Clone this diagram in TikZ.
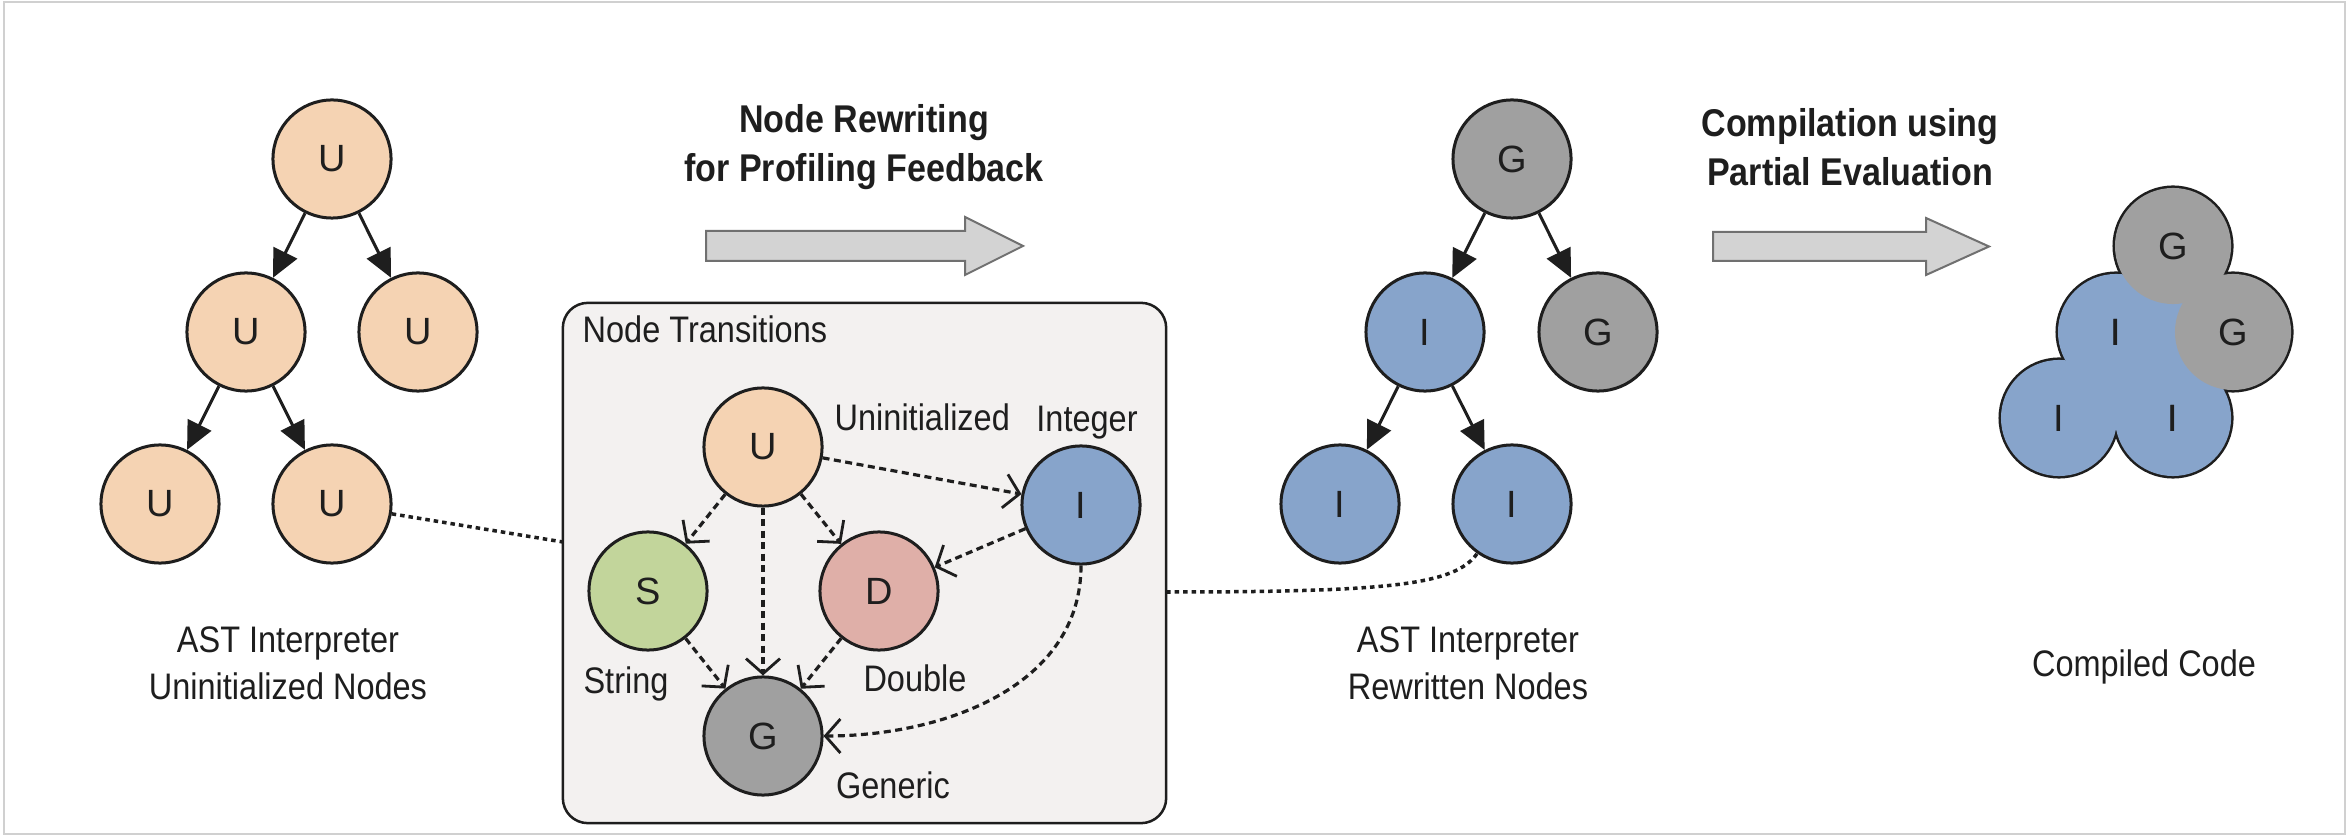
\documentclass[tikz,border=0pt]{standalone}
\usepackage{fontspec}
\setmainfont{Liberation Sans}[FakeStretch=0.88]
\newfontfamily\letterfont{Liberation Sans}
\usetikzlibrary{arrows.meta}

\definecolor{ufill}{HTML}{F5D3B3}
\definecolor{ifill}{HTML}{87A4CB}
\definecolor{gfill}{HTML}{A0A0A0}
\definecolor{sfill}{HTML}{C2D59B}
\definecolor{dfill}{HTML}{DFAFA8}
\definecolor{boxfill}{HTML}{F3F1F0}
\definecolor{arrowfill}{HTML}{D3D3D3}
\definecolor{arrowline}{HTML}{707070}
\definecolor{framecol}{HTML}{D0D0D0}
\definecolor{ink}{HTML}{1E1E1E}

\begin{document}
\begin{tikzpicture}[x=0.01cm, y=-0.01cm,
  tnode/.style={circle, draw=ink, line width=0.03cm, minimum size=1.18cm, inner sep=0pt,
    text=ink, font=\letterfont\fontsize{10.8pt}{12pt}\selectfont},
  cnode/.style={circle, minimum size=1.16cm, inner sep=0pt,
    text=ink, font=\letterfont\fontsize{10.8pt}{12pt}\selectfont},
  treeedge/.style={draw=ink, line width=0.03cm, -{Triangle[length=0.28cm, width=0.26cm]}},
  transedge/.style={draw=ink, line width=0.032cm, dash pattern=on 0.07cm off 0.045cm,
    -{Straight Barb[length=0.15cm, width=0.34cm, line width=0.028cm]}},
  link/.style={draw=ink, line width=0.035cm, dash pattern=on 0.045cm off 0.04cm},
  caption/.style={font=\fontsize{10.5pt}{13.4pt}\selectfont, align=center, text=ink, inner sep=0pt},
  title/.style={font=\bfseries\fontsize{11pt}{13.9pt}\selectfont, align=center, text=ink, inner sep=0pt},
  small/.style={font=\fontsize{10.5pt}{12pt}\selectfont, text=ink, inner sep=0pt},
  fatarrow/.style={fill=arrowfill, draw=arrowline, line width=0.02cm}
]
\useasboundingbox (0,0) rectangle (2348,840);
\fill[white] (0,0) rectangle (2348,840);
\draw[framecol, line width=0.025cm] (4,2) rectangle (2345,834);

% headings and the two wide process arrows
\node[title] (head1) at (864,147) {Node Rewriting\\for Profiling Feedback};
\node[title] (head2) at (1850,147) {Compilation using\\Partial Evaluation};
\draw[fatarrow] (706,231) -- (965,231) -- (965,217) -- (1023,246) -- (965,275) -- (965,261) -- (706,261) -- cycle;
\draw[fatarrow] (1713,232) -- (1926,232) -- (1926,218) -- (1989,246.5) -- (1926,275) -- (1926,261) -- (1713,261) -- cycle;

% captions
\node[caption] (cap1) at (288,663) {AST Interpreter\\Uninitialized Nodes};
\node[caption] (cap2) at (1468,663) {AST Interpreter\\Rewritten Nodes};
\node[caption] (cap3) at (2144,667) {Compiled Code};

% transitions panel
\node[draw=ink, line width=0.025cm, fill=boxfill, rounded corners=0.25cm,
      minimum width=6.03cm, minimum height=5.2cm, inner sep=0pt] (panel) at (864.5,563) {};
\node[small, anchor=base west] (lblN) at (582,343) {Node Transitions};

% uninitialized tree
\node[tnode, fill=ufill] (la)  at (332,159) {U};
\node[tnode, fill=ufill] (lb)  at (246,332) {U};
\node[tnode, fill=ufill] (lc)  at (418,332) {U};
\node[tnode, fill=ufill] (ld)  at (160,504) {U};
\node[tnode, fill=ufill] (le)  at (332,504) {U};
\draw[treeedge] (la) -- (lb);
\draw[treeedge] (la) -- (lc);
\draw[treeedge] (lb) -- (ld);
\draw[treeedge] (lb) -- (le);

% rewritten tree
\node[tnode, fill=gfill] (ra)  at (1512,159) {G};
\node[tnode, fill=ifill] (rb)  at (1425,332) {I};
\node[tnode, fill=gfill] (rc)  at (1598,332) {G};
\node[tnode, fill=ifill] (rd)  at (1340,504) {I};
\node[tnode, fill=ifill] (re)  at (1512,504) {I};
\draw[treeedge] (ra) -- (rb);
\draw[treeedge] (ra) -- (rc);
\draw[treeedge] (rb) -- (rd);
\draw[treeedge] (rb) -- (re);

% links between the trees and the panel
\coordinate (panelin) at (563,542);
\coordinate (panelout) at (1166,592);
\draw[link] (le) -- (panelin);
\draw[link] (panelout) .. controls (1390,592) and (1455,585) .. (re);

% state machine of node specializations
\node[tnode, fill=ufill] (su) at (763,447) {U};
\node[tnode, fill=ifill] (si) at (1081,505) {I};
\node[tnode, fill=sfill] (ss) at (648,591) {S};
\node[tnode, fill=dfill] (sd) at (879,591) {D};
\node[tnode, fill=gfill] (sg) at (763,736) {G};
\node[small, anchor=base west] (lblU) at (834,431) {Uninitialized};
\node[small, anchor=base] (lblI) at (1087,432) {Integer};
\node[small, anchor=base] (lblS) at (626,693) {String};
\node[small, anchor=base] (lblD) at (915,691) {Double};
\node[small, anchor=base] (lblG) at (893,798) {Generic};
\draw[transedge] (su) -- (si);
\draw[transedge] (su) -- (ss);
\draw[transedge] (su) -- (sd);
\draw[transedge] (su) -- (sg);
\draw[transedge] (si) -- (sd);
\draw[transedge] (ss) -- (sg);
\draw[transedge] (sd) -- (sg);
\draw[transedge] (si) to[out=-90, in=0] (sg);

% compiled code: merged tree, one outline around the union of the circles
\foreach \cx/\cy in {2059/418, 2173/418, 2116/332, 2233/332, 2173/246}
  \draw[draw=ink, line width=0.05cm] (\cx,\cy) circle[radius=0.58cm];
\fill[ifill] (2059,418) -- (2116,332) -- (2173,246) -- (2233,332) -- (2173,418) -- cycle;
\node[cnode, fill=ifill] (kd) at (2059,418) {I};
\node[cnode, fill=ifill] (ke) at (2173,418) {I};
\node[cnode, fill=ifill] (kb) at (2116,332) {I};
\node[cnode, fill=gfill] (kc) at (2233,332) {G};
\node[cnode, fill=gfill] (ka) at (2173,246) {G};
\node[text=ink, font=\letterfont\fontsize{10.8pt}{12pt}\selectfont] (kbl) at (kb) {I};
\node[text=ink, font=\letterfont\fontsize{10.8pt}{12pt}\selectfont] (kel) at (ke) {I};
\end{tikzpicture}
\end{document}
